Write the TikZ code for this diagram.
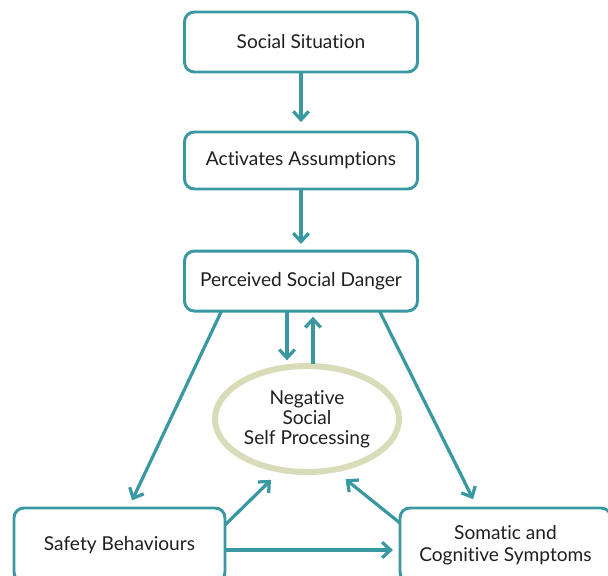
\documentclass[tikz,border=0pt]{standalone}
\usepackage{fontspec}
\setmainfont{Lato}[Ligatures={NoCommon}]
\usetikzlibrary{positioning,calc,shapes.geometric,arrows.meta}
\definecolor{boxteal}{RGB}{58,152,162}
\definecolor{ellsage}{RGB}{217,220,184}
\def\px{0.025cm}

\begin{document}
\begin{tikzpicture}[x=\px,y=-\px,line width=2.1pt,
  box/.style={draw=boxteal,rounded corners=7pt,minimum width=233*\px,minimum height=60*\px,
    inner sep=0pt,outer sep=0pt,align=center,text=black!88,font=\fontsize{13.6}{16}\selectfont},
  arr/.style={boxteal,line width=2.3pt,-{Straight Barb[length=6pt,width=11pt]}},
]
  \useasboundingbox (0,0) rectangle (608,576);
  \clip (0,0) rectangle (608,576);
  % column of boxes
  \node[box] (sit) at (301,42) {Social Situation};
  \node[box,minimum height=57*\px,below=1.5cm of sit] (act) {Activates Assumptions};
  \node[box,below=1.55cm of act] (dan) {Perceived Social Danger};
  \node[draw=ellsage,line width=4.3pt,ellipse,minimum width=184*\px,minimum height=106*\px,
    inner sep=0pt,outer sep=0pt,align=center,text=black!88,font=\fontsize{13.6}{14.3}\selectfont]
    (neg) at (307,419) {Negative\\Social\\Self Processing};
  \node[box,minimum width=211*\px,minimum height=74*\px] (safe) at (119.5,545) {Safety Behaviours};
  \node[box,minimum width=211*\px,minimum height=74*\px] (som) at (505.5,545) {Somatic and\\Cognitive Symptoms};
  % arrows
  \draw[arr,shorten >=7pt] (sit) -- (act);
  \draw[arr,shorten >=5pt] (act) -- (dan);
  \draw[arr,shorten >=4pt] ($(dan.south)+(-14,0)$) -- ($(neg.north)+(-20,0)$);
  \draw[arr,shorten >=4pt] ($(neg.north)+(6,-2)$) -- ($(dan.south)+(12,0)$);
  \draw[arr,shorten >=6pt] ($(dan.south west)+(37,0)$) -- ($(safe.north)+(9,0)$);
  \draw[arr,shorten >=7pt] ($(dan.south east)+(-38,0)$) -- ($(som.north)+(-28,0)$);
  \draw[arr,shorten >=6pt] ($(safe.east)+(0,-20)$) -- ($(neg.south)+(-30,2)$);
  \draw[arr,shorten >=6pt] ($(som.west)+(0,-22)$) -- ($(neg.south)+(32,2)$);
  \draw[arr,shorten >=5pt] ($(safe.east)+(0,5)$) -- ($(som.west)+(0,5)$);
\end{tikzpicture}
\end{document}
